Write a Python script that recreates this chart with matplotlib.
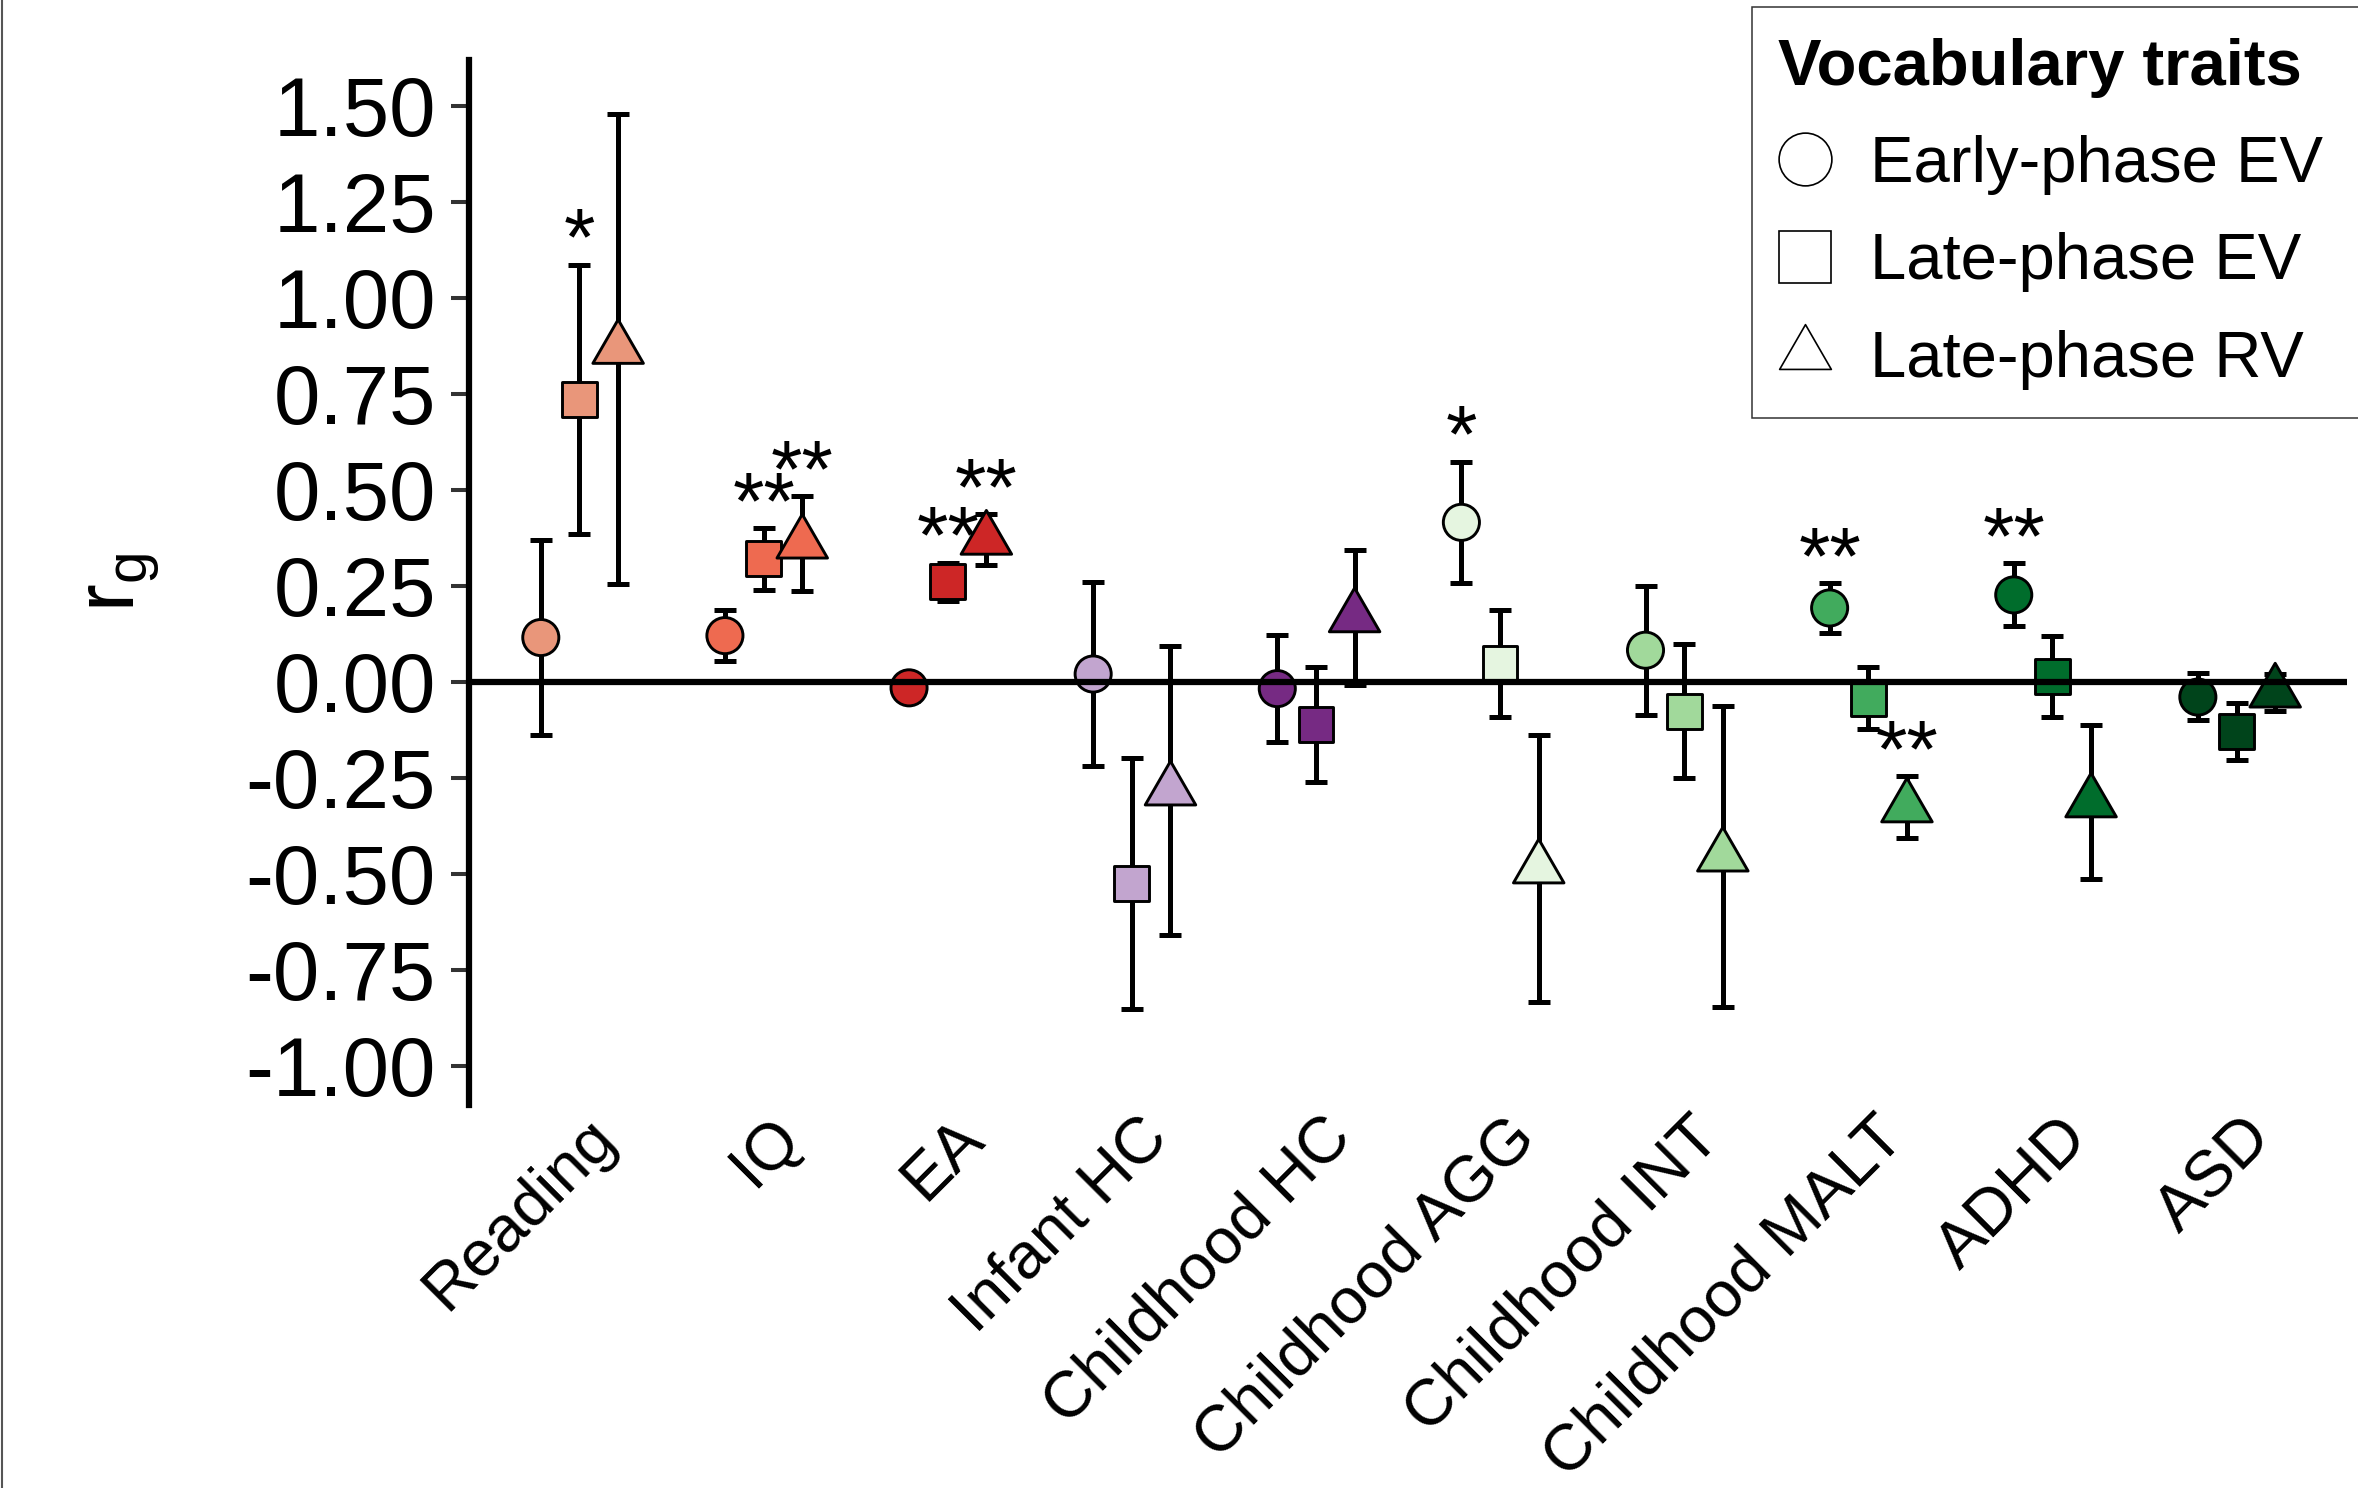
import matplotlib
matplotlib.use('Agg')
import matplotlib.pyplot as plt
import numpy as np
from matplotlib.path import Path
from matplotlib.lines import Line2D
from matplotlib.patches import Rectangle
import matplotlib.transforms as mtransforms

plt.rcParams['font.family'] = ['Liberation Sans', 'DejaVu Sans']
plt.rcParams['axes.unicode_minus'] = False
plt.rcParams['mathtext.fontset'] = 'custom'
plt.rcParams['mathtext.rm'] = 'Liberation Sans'

# ---------------- data ----------------
categories = ["Reading", "IQ", "EA", "Infant HC", "Childhood HC", "Childhood AGG",
              "Childhood INT", "Childhood MALT", "ADHD", "ASD"]
colors = ['#E9967A', '#EE6A50', '#CD2626', '#C2A5CF', '#762A83',
          '#E5F5E0', '#A1D99B', '#41AB5D', '#006D2C', '#00441B']
traits = ["Early-phase EV", "Late-phase EV", "Late-phase RV"]

early_ev_rg = [0.115, 0.12, -0.016, 0.02, -0.018, 0.415, 0.082, 0.192, 0.226, -0.04]
early_ev_lo = [-0.139, 0.053, -0.05, -0.22, -0.157, 0.256, -0.087, 0.128, 0.145, -0.10]
early_ev_hi = [0.369, 0.186, 0.02, 0.26, 0.122, 0.573, 0.25, 0.256, 0.308, 0.022]
early_ev_sig = ['', '', '', '', '', '*', '', '**', '**', '']

late_ev_rg = [0.735, 0.32, 0.26, -0.525, -0.112, 0.047, -0.077, -0.043, 0.014, -0.13]
late_ev_lo = [0.384, 0.24, 0.21, -0.852, -0.261, -0.093, -0.252, -0.124, -0.093, -0.204]
late_ev_hi = [1.086, 0.40, 0.31, -0.199, 0.038, 0.187, 0.099, 0.038, 0.12, -0.056]
late_ev_sig = ['*', '**', '**', '', '', '', '', '', '', '']

late_rv_rg = [0.867, 0.36, 0.37, -0.283, 0.168, -0.486, -0.455, -0.327, -0.314, -0.028]
late_rv_lo = [0.254, 0.237, 0.304, -0.659, -0.008, -0.834, -0.847, -0.408, -0.514, -0.075]
late_rv_hi = [1.479, 0.483, 0.437, 0.094, 0.344, -0.138, -0.063, -0.246, -0.113, 0.02]
late_rv_sig = ['', '**', '**', '', '', '', '', '**', '', '']

y_ticks = [-1.00, -0.75, -0.50, -0.25, 0.00, 0.25, 0.50, 0.75, 1.00, 1.25, 1.50]

# ---------------- figure ----------------
W, H = 2358, 1488
fig = plt.figure(figsize=(W / 100, H / 100), dpi=100)
ax_l, ax_r, ax_t, ax_b = 469, 2347, 60, 1105
ax = fig.add_axes([ax_l / W, 1 - ax_b / H, (ax_r - ax_l) / W, (ax_b - ax_t) / H])
ax.patch.set_facecolor('none')

# equilateral triangle marker (centroid at origin, like R pch 24)
s3 = 1 / np.sqrt(3)
tri = Path([(0, 2 / 3), (-s3, -1 / 3), (s3, -1 / 3), (0, 2 / 3)],
           [Path.MOVETO, Path.LINETO, Path.LINETO, Path.CLOSEPOLY])

series = [
    (early_ev_rg, early_ev_lo, early_ev_hi, early_ev_sig, 'o', 26),
    (late_ev_rg, late_ev_lo, late_ev_hi, late_ev_sig, 's', 25),
    (late_rv_rg, late_rv_lo, late_rv_hi, late_rv_sig, tri, 42),
]
offsets = [-0.21, 0.0, 0.21]
xpos = np.arange(1, len(categories) + 1)

for k, (rg, lo, hi, sig, mk, ms) in enumerate(series):
    rg = np.asarray(rg); lo = np.asarray(lo); hi = np.asarray(hi)
    xs = xpos + offsets[k]
    ax.errorbar(xs, rg, yerr=[rg - lo, hi - rg], fmt='none', ecolor='black',
                elinewidth=3.6, capsize=8, capthick=3.6, zorder=2)
    ax.scatter(xs, rg, s=ms ** 2, c=colors, marker=mk, edgecolors='black',
               linewidths=2.1, zorder=3)
    for i, lab in enumerate(sig):
        if lab:
            ax.text(xs[i], hi[i], lab, ha='center', va='baseline',
                    fontsize=58, zorder=5)

ax.axhline(0, color='black', lw=4.5, zorder=4)

ax.set_xlim(0.4, len(categories) + 0.6)
ax.set_ylim(-(ax_b - 681.7) / 384, (681.7 - ax_t) / 384)

for sp in ['top', 'right', 'bottom']:
    ax.spines[sp].set_visible(False)
ax.spines['left'].set_linewidth(4.5)
ax.spines['left'].set_color('black')

ax.set_yticks(y_ticks)
ax.set_yticklabels([f'{v:.2f}' for v in y_ticks])
ax.tick_params(axis='y', length=13, width=2.9, color='#333333', pad=10.8,
               labelsize=60, labelcolor='black')
ax.set_xticks(xpos)
ax.set_xticklabels(categories, rotation=45, ha='right', va='top',
                   rotation_mode='anchor')
ax.tick_params(axis='x', length=0, pad=8, labelsize=47, labelcolor='black')
shift = mtransforms.ScaledTranslation(0.05, 0.093, fig.dpi_scale_trans)
for lab in ax.get_xticklabels():
    lab.set_transform(lab.get_transform() + shift)

ax.set_ylabel(r'$\mathregular{r_g}$', fontsize=60)
ax.yaxis.set_label_coords((162 - ax_l) / (ax_r - ax_l), 0.5)

# ---------------- legend ----------------
handles = [
    Line2D([], [], linestyle='none', marker='o', markersize=38,
           markerfacecolor='white', markeredgecolor='black', markeredgewidth=1.2),
    Line2D([], [], linestyle='none', marker='s', markersize=37,
           markerfacecolor='white', markeredgecolor='black', markeredgewidth=1.2),
    Line2D([], [], linestyle='none', marker=tri, markersize=43,
           markerfacecolor='white', markeredgecolor='black', markeredgewidth=1.2),
]
leg = ax.legend(handles, traits, title='Vocabulary traits', loc='upper left',
                bbox_to_anchor=(1778 / W, 1 - 38 / H), bbox_transform=fig.transFigure,
                borderpad=0, borderaxespad=0, frameon=False, fontsize=47,
                title_fontproperties={'weight': 'bold', 'size': 47},
                handlelength=0.83, handletextpad=0.58, labelspacing=0.57,
                handleheight=0.7, alignment='left', numpoints=1)

fig.add_artist(Rectangle((1752 / W, 1 - 418 / H), 0.3, (418 - 7) / H,
                         transform=fig.transFigure, facecolor='white',
                         edgecolor='#333333', lw=1.1, zorder=-1))
fig.add_artist(Line2D([1.5 / W, 1.5 / W], [0, 1], transform=fig.transFigure,
                      color='#555555', lw=1.5))

fig.savefig('out.png', dpi=100)
